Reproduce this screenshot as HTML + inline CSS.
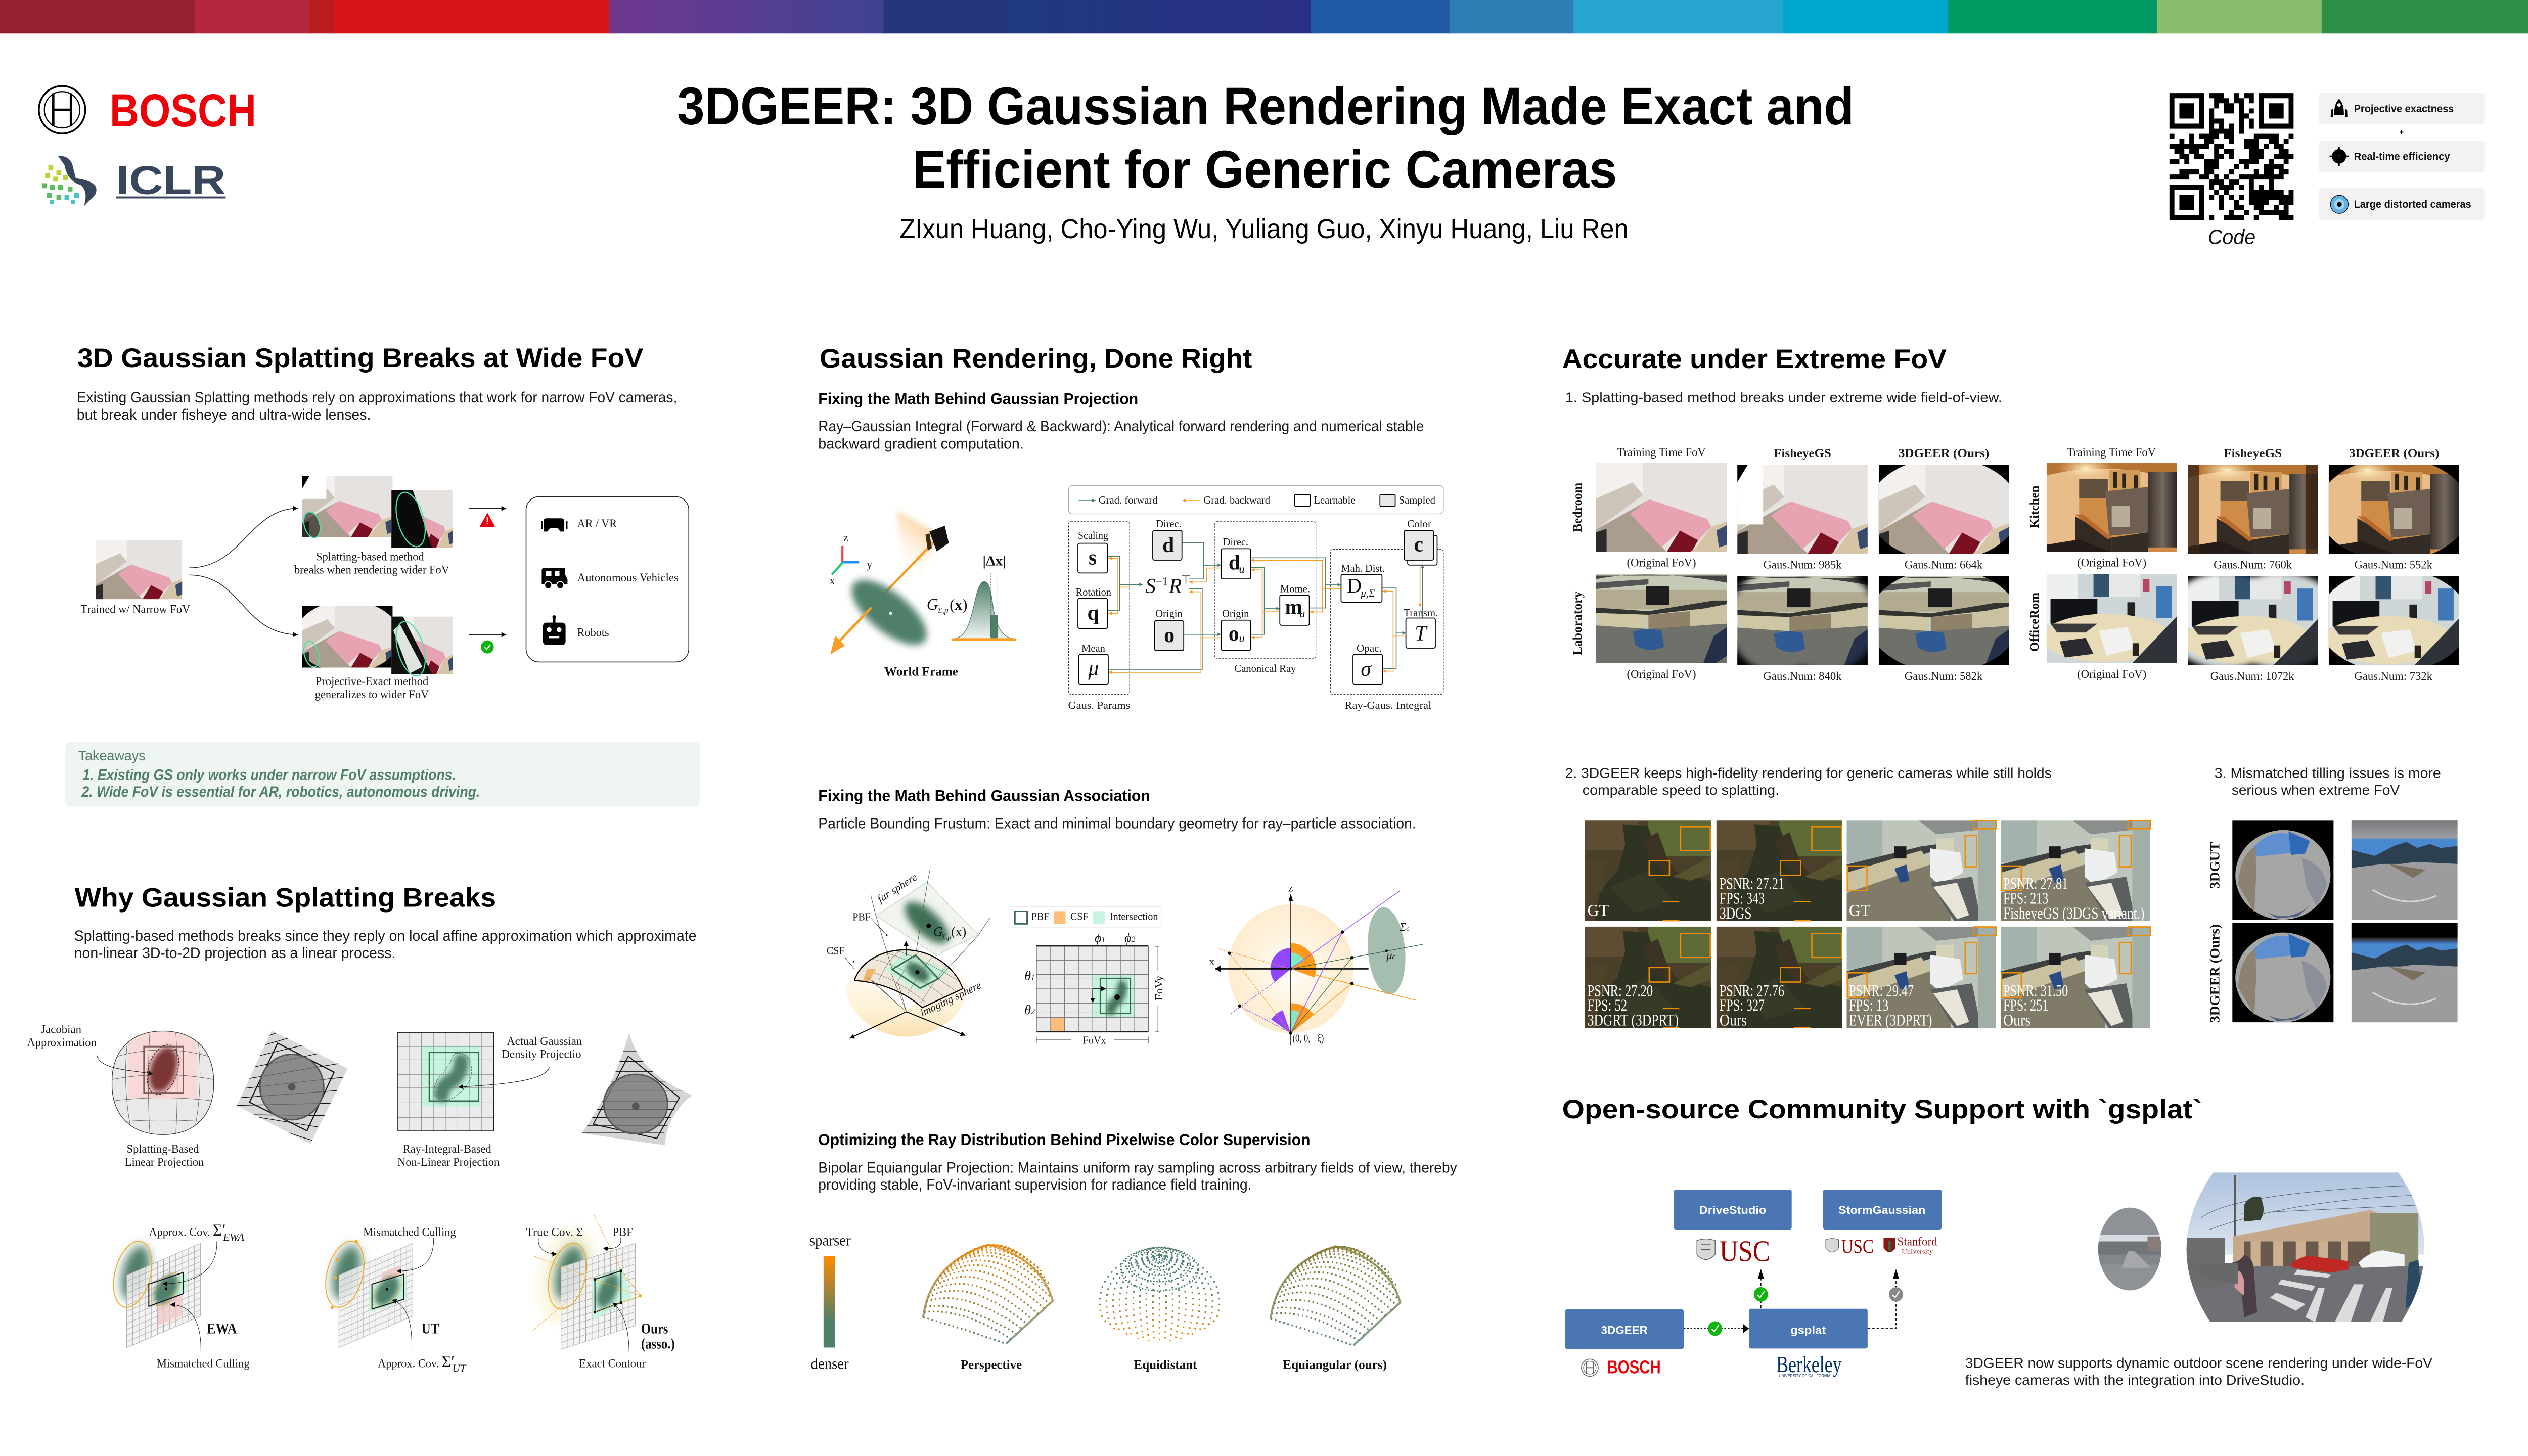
<!DOCTYPE html>
<html lang="en"><head><meta charset="utf-8"><title>3DGEER poster</title>
<style>
html,body{margin:0;padding:0;background:#fff;width:100%;height:100%;overflow:hidden}
svg{display:block;width:100vw;height:100vh}
text{font-family:"Liberation Sans",sans-serif;fill:#111}
.S{font-family:"Liberation Serif",serif}
.B{font-weight:bold}
.I{font-style:italic}
.h{font-weight:bold;font-size:16.3px;fill:#000}
.sub{font-weight:bold;font-size:9.6px;fill:#000}
.p{font-size:9.2px;fill:#1a1a1a}
.c{font-family:"Liberation Serif",serif;font-size:7px;fill:#1a1a1a}
.n{font-family:"Liberation Serif",serif;font-size:6.6px;fill:#1a1a1a}
.w{font-family:"Liberation Serif",serif;font-size:10px;fill:#fff}
.gr{fill:none;stroke:#4f7f69;stroke-width:.5}
.or{fill:none;stroke:#f99d25;stroke-width:.5}
.nd{fill:#fff;stroke:#000;stroke-width:.55}
.ng{fill:#e8e8e8;stroke:#000;stroke-width:.55}
.dg{fill:none;stroke:#333;stroke-width:.35;stroke-dasharray:1.2 .8}
.ob{fill:none;stroke:#f08c00;stroke-width:.8}
</style></head><body>
<svg xmlns="http://www.w3.org/2000/svg" viewBox="0 0 1568 882" preserveAspectRatio="none">
<defs>
<linearGradient id="pur"><stop offset="0" stop-color="#6f378e"/><stop offset="1" stop-color="#3f4394"/></linearGradient>
<linearGradient id="blu"><stop offset="0" stop-color="#1f3a80"/><stop offset="1" stop-color="#2b2f85"/></linearGradient>
<linearGradient id="gP" gradientUnits="userSpaceOnUse" x1="0" y1="754" x2="0" y2="814"><stop offset="0" stop-color="#e88a12"/><stop offset=".55" stop-color="#a07f30"/><stop offset="1" stop-color="#4f7f69"/></linearGradient>
<linearGradient id="gE" gradientUnits="userSpaceOnUse" x1="0" y1="754" x2="0" y2="814"><stop offset="0" stop-color="#8c8038"/><stop offset=".5" stop-color="#6f8148"/><stop offset="1" stop-color="#4f7f69"/></linearGradient>
<linearGradient id="gD" gradientUnits="userSpaceOnUse" x1="0" y1="756" x2="0" y2="813"><stop offset="0" stop-color="#4f7f69"/><stop offset=".35" stop-color="#4f7f69"/><stop offset=".65" stop-color="#a08036"/><stop offset="1" stop-color="#ff8a00"/></linearGradient>
<linearGradient id="bar" x1="0" y1="0" x2="0" y2="1"><stop offset="0" stop-color="#ff8a00"/><stop offset=".72" stop-color="#4f7f69"/><stop offset="1" stop-color="#4f7f69"/></linearGradient>
<linearGradient id="cone" gradientUnits="userSpaceOnUse" x1="583" y1="324" x2="562" y2="352"><stop offset="0" stop-color="#fbd3a0"/><stop offset="1" stop-color="#fff" stop-opacity="0"/></linearGradient>
<linearGradient id="bell" x1="0" y1="0" x2="0" y2="1"><stop offset="0" stop-color="#4f7f69"/><stop offset="1" stop-color="#f2f5f3"/></linearGradient>
<linearGradient id="yel" x1="0" y1="0" x2="0" y2="1"><stop offset="0" stop-color="#fffaf0"/><stop offset=".6" stop-color="#fdf1d6"/><stop offset="1" stop-color="#f9e0ae"/></linearGradient>
<linearGradient id="frig" x1="0" y1="0" x2="1" y2="0"><stop offset="0" stop-color="#3b3530"/><stop offset=".5" stop-color="#75685d"/><stop offset="1" stop-color="#2c2622"/></linearGradient>
<linearGradient id="fadeb" x1="0" y1="0" x2="0" y2="1"><stop offset="0" stop-color="#000"/><stop offset=".65" stop-color="#000"/><stop offset="1" stop-color="#000" stop-opacity="0"/></linearGradient>
<linearGradient id="fadeg" x1="0" y1="0" x2="0" y2="1"><stop offset="0" stop-color="#77787c"/><stop offset=".85" stop-color="#9c9d9f"/><stop offset="1" stop-color="#9c9d9f" stop-opacity="0"/></linearGradient>
<radialGradient id="sph"><stop offset="0" stop-color="#fff"/><stop offset=".55" stop-color="#fef3de"/><stop offset="1" stop-color="#fdeccf"/></radialGradient>
<radialGradient id="lamp"><stop offset="0" stop-color="#fff3c8"/><stop offset="1" stop-color="#f0c58a" stop-opacity="0"/></radialGradient>
<linearGradient id="sky" x1="0" y1="0" x2="0" y2="1"><stop offset="0" stop-color="#aec2df"/><stop offset="1" stop-color="#dbe4ee"/></linearGradient>
<filter id="b1" x="-50%" y="-50%" width="200%" height="200%"><feGaussianBlur stdDeviation="1.6"/></filter>
<filter id="b15" x="-50%" y="-50%" width="200%" height="200%"><feGaussianBlur stdDeviation="2.2"/></filter>
<filter id="b2" x="-50%" y="-50%" width="200%" height="200%"><feGaussianBlur stdDeviation="3"/></filter>
<filter id="b3" x="-50%" y="-50%" width="200%" height="200%"><feGaussianBlur stdDeviation="5"/></filter>
<marker id="a" markerUnits="userSpaceOnUse" markerWidth="4" markerHeight="4" refX="3" refY="1.5" orient="auto"><path d="M0 0L3 1.5L0 3Z" fill="#000"/></marker>
<marker id="ag" markerUnits="userSpaceOnUse" markerWidth="3" markerHeight="3" refX="2.2" refY="1.1" orient="auto"><path d="M0 0L2.2 1.1L0 2.2Z" fill="#4f7f69"/></marker>
<marker id="ao" markerUnits="userSpaceOnUse" markerWidth="3" markerHeight="3" refX="2.2" refY="1.1" orient="auto"><path d="M0 0L2.2 1.1L0 2.2Z" fill="#f99d25"/></marker>

<symbol id="bed" viewBox="0 0 100 100" preserveAspectRatio="none">
<rect width="100" height="100" fill="#e6e2df"/>
<path d="M0 0H36V36L0 68Z" fill="#f3f0ed"/>
<path d="M0 40L28 22L36 36L0 75Z" fill="#cdc4ba"/>
<path d="M0 75L41 41L26 57L54 100H0Z" fill="#ab9d8e"/>
<path d="M41 41L26 57L50 95L64 76L78 87L88 72L85 63Z" fill="#e8a3b2"/>
<path d="M64 76L78 87L73 100H54Z" fill="#7a1022"/>
<path d="M76 96L88 72L100 66V100H72Z" fill="#d6c4a6"/>
<path d="M92 76L100 70V92L94 95Z" fill="#394a6e"/>
<path d="M0 78L8 74V100H0Z" fill="#2b2b2b"/>
</symbol>
<symbol id="kit" viewBox="0 0 100 100" preserveAspectRatio="none">
<rect width="100" height="100" fill="#cf8c46"/>
<rect width="100" height="16" fill="#b87433"/>
<path d="M0 14Q40 0 80 12V40H25V86L0 92Z" fill="#e8bd8a"/>
<ellipse cx="30" cy="6" rx="22" ry="14" fill="url(#lamp)"/>
<rect x="25" y="18" width="22" height="22" fill="#5f4f3e"/>
<rect x="48" y="8" width="24" height="24" fill="#d09a58"/>
<rect x="51" y="10" width="3" height="18" fill="#2c2418"/><rect x="58" y="12" width="3" height="16" fill="#2c2418"/><rect x="67" y="14" width="3" height="14" fill="#2c2418"/>
<path d="M45 32L78 27V78L48 82Z" fill="#6e5f52"/>
<rect x="50" y="48" width="14" height="24" fill="#b8ad98"/>
<rect x="78" y="10" width="22" height="85" fill="url(#frig)"/>
<path d="M22 60L50 84V100H22Z" fill="#332a24"/>
<path d="M22 58L28 58L50 84L47 86Z" fill="#b9682a"/>
<path d="M0 92L25 86L50 100H0Z" fill="#231c18"/>
<path d="M50 84L78 78V100H50Z" fill="#332c27"/>
</symbol>
<symbol id="lab" viewBox="0 0 100 100" preserveAspectRatio="none">
<rect width="100" height="100" fill="#c5cab7"/>
<path d="M0 6Q40 -6 100 10V2H0Z" fill="#444"/>
<rect y="18" width="100" height="22" fill="#b3ab90"/>
<rect x="38" y="14" width="18" height="21" fill="#1d1d1f"/>
<path d="M0 10L40 6V12L0 17Z" fill="#555"/>
<path d="M0 38L40 42L90 30L100 30V36L40 46L0 44Z" fill="#33342f"/>
<path d="M0 44L38 46V62L4 58Z" fill="#cec6a5"/>
<path d="M40 46L72 42V60L40 62Z" fill="#8f8269"/>
<path d="M72 42L100 34V62L72 60Z" fill="#c9c1a1"/>
<path d="M0 58L40 62L100 56V100H0Z" fill="#6f706a"/>
<path d="M28 65Q38 60 50 64L52 82Q40 90 30 80Z" fill="#2f5a94"/>
<path d="M90 70L100 60V92L92 100H82Z" fill="#24304a"/>
</symbol>
<symbol id="off" viewBox="0 0 100 100" preserveAspectRatio="none">
<rect width="100" height="100" fill="#cfd6d8"/>
<rect width="24" height="58" fill="#eef0ef"/>
<rect x="36" y="0" width="12" height="26" fill="#33536f"/><rect x="48" y="0" width="24" height="26" fill="#e6e8e8"/>
<rect x="74" y="6" width="5" height="14" fill="#b84463"/>
<rect x="84" y="14" width="12" height="36" fill="#3f78b4"/>
<rect x="3" y="28" width="36" height="28" fill="#121316"/>
<rect x="62" y="32" width="6" height="20" fill="#222"/>
<ellipse cx="46" cy="72" rx="50" ry="27" fill="#e7dcb7"/>
<path d="M66 100L100 48V100Z" fill="#2d3339"/>
<path d="M10 76L30 72L36 90L14 94Z" fill="#2a2b2e"/>
<path d="M40 64L62 60L68 84L46 92Z" fill="#f1f1f0"/>
<rect x="66" y="78" width="5" height="14" fill="#26221c"/>
<path d="M3 56L39 56L30 66L8 66Z" fill="#3a3a3c"/>
</symbol>
<symbol id="for" viewBox="0 0 100 100" preserveAspectRatio="none">
<rect width="100" height="100" fill="#4a3f28"/>
<rect x="50" width="50" height="36" fill="#5e6a35"/>
<rect width="42" height="30" fill="#5d4d33"/>
<path d="M30 4L50 6L58 34L68 50L100 60V100H8L12 70L26 50L32 24Z" fill="#2f3322"/>
<path d="M46 20L58 12L66 40L78 60L64 54L52 38Z" fill="#3c3324"/>
<path d="M0 40L18 38L14 70L0 80Z" fill="#4e4228"/>
<path d="M20 66L50 50L70 80L40 92Z" fill="#353b26"/>
<path d="M70 56L100 36V52L84 60Z" fill="#56532f"/>
</symbol>
<symbol id="lb2" viewBox="0 0 100 100" preserveAspectRatio="none">
<rect width="100" height="100" fill="#bec6bc"/>
<rect width="24" height="42" fill="#a3b2ab"/>
<path d="M48 0H100V8L60 14Z" fill="#8a8f8b"/>
<rect x="60" y="18" width="12" height="24" fill="#d4d2b8"/>
<path d="M0 44L50 26L60 24V30L0 56Z" fill="#3e4240"/>
<path d="M0 52L50 30L56 44L10 74L0 72Z" fill="#c9c1a0"/>
<rect x="32" y="26" width="8" height="12" fill="#1d1d1f"/>
<path d="M0 72L56 44L66 56L70 100H0Z" fill="#7f7b68"/>
<path d="M56 28L76 32L78 52L62 64L56 56Z" fill="#eef0ef"/>
<path d="M56 62L84 56L90 100H72Z" fill="#5c5f60"/>
<path d="M58 66L74 62L82 94L74 98Z" fill="#e8e5d8"/>
<rect x="88" width="12" height="100" fill="#a3aea7"/>
<path d="M32 48L40 44L42 60L36 62Z" fill="#2a4a84"/>
</symbol>
<symbol id="mk" viewBox="0 0 100 100" preserveAspectRatio="none"><path fill-rule="evenodd" d="M0 0H100V100H0ZM50 -8A58 58 0 1 0 50.1 108A58 58 0 1 0 50 -8Z" fill="#000"/></symbol>
<symbol id="mg" viewBox="0 0 100 100" preserveAspectRatio="none"><path filter="url(#b2)" fill-rule="evenodd" d="M-10 -10H110V110H-10ZM50 2A47 54 0 1 0 50.1 98A47 54 0 1 0 50 2Z" fill="#000"/></symbol>
<symbol id="mh" viewBox="0 0 100 100" preserveAspectRatio="none"><path filter="url(#b2)" fill-rule="evenodd" d="M-10 -10H110V110H-10ZM50 0A38 58 0 1 0 50.1 100A38 58 0 1 0 50 0Z" fill="#000"/></symbol>
<symbol id="fe1" viewBox="0 0 100 100" preserveAspectRatio="none">
<rect width="100" height="100" fill="#000"/>
<g transform="rotate(-6 50 55)"><ellipse cx="50" cy="55" rx="47" ry="45" fill="#a6a7a5"/>
<path d="M24 24Q50 2 76 24L74 34H26Z" fill="#5f8fcf"/><path d="M60 12L80 24L74 36H60Z" fill="#2d69b5"/>
<path d="M5 60Q10 30 26 24L24 50L18 90Z" fill="#8d8172"/><path d="M70 40Q92 50 92 70L80 90L72 70Z" fill="#8a8f9a"/>
<path d="M30 90Q50 104 74 88L60 98H40Z" fill="#4f6180"/></g>
</symbol>
<symbol id="fe2" viewBox="0 0 100 100" preserveAspectRatio="none">
<rect width="100" height="100" fill="#9d9d9f"/>
<rect y="18" width="100" height="20" fill="#4a88d0"/>
<path d="M0 30L22 36L40 26L52 22L62 28L74 24L84 28L100 26V44L60 42L20 48L0 52Z" fill="#2c4050"/>
<path d="M0 48L30 44L70 44L100 50V100H0Z" fill="#9c9c9e"/>
<path d="M35 44L70 50L58 58Z" fill="#7b6f60"/>
<path d="M20 70Q50 90 80 76" fill="none" stroke="#d8d8d8" stroke-width="1.5"/>
</symbol>
<path id="pg" d="M0 0H1V1H0ZM0 .083H1M0 .167H1M0 .25H1M0 .333H1M0 .417H1M0 .5H1M0 .583H1M0 .667H1M0 .75H1M0 .833H1M0 .917H1M.083 0V1M.167 0V1M.25 0V1M.333 0V1M.417 0V1M.5 0V1M.583 0V1M.667 0V1M.75 0V1M.833 0V1M.917 0V1" fill="#f1f1f1" fill-opacity=".85" stroke="#aaa" stroke-width="1" vector-effect="non-scaling-stroke"/>
<g id="rows" fill="none" stroke-width="1.05" stroke-dasharray="1 1.7">
<path d="M572.6 798Q598 805 624 814"/><path d="M573.2 794.8Q596 792 627 811"/><path d="M573.8 791.6Q596 788 630.5 808"/><path d="M574.6 788.6Q598 780 634 805"/><path d="M575.6 785.7Q600 773 637 802"/><path d="M576.8 783Q602 767 640 799"/><path d="M578.1 780.2Q605 761 644 796"/><path d="M579.6 777.6Q607 756 648 793"/><path d="M581.2 775.1Q610 752 651 790"/><path d="M583 772.8Q612 749 652 786"/><path d="M585 770.5Q614 746 652 782"/><path d="M587 768.4Q616 745 651 778"/><path d="M589.3 766.3Q618 744 649 775"/><path d="M591.7 764.4Q618 744 647 771"/><path d="M594.2 762.6Q618 745 644 768"/><path d="M597 760.9Q618 746 640 765"/><path d="M599.8 759.3Q618 748 636 762"/><path d="M603 757.8Q617 750 631 759"/><path d="M606.1 756.4Q616 752 625 757"/>
<path stroke-dasharray="none" stroke-width="1.3" opacity=".75" d="M572.6 798Q577 765 613 754Q645 762 653 788L624 814"/>
</g>
<g id="mer" fill="none" stroke="url(#gD)" stroke-width="1" stroke-dasharray="1 2.6">
<path d="M719.2 760C722 763 723.3 775 723.3 788S723 805 722.5 813"/>
<path d="M719.2 760C724.7 763 727.4 775 727.4 788S726.5 805 725.9 812.5"/>
<path d="M719.2 760C727.5 763 731.4 775 731.4 788S730 805 729.1 811.9"/>
<path d="M719.2 760C730.2 763 735.5 775 735.5 788S733.7 805 732.4 811"/>
<path d="M719.2 760C733.2 763 739.9 775 739.9 788S737.7 805 736 810"/>
<path d="M719.2 760C736 763 744 775 744 788S741.3 805 739.3 808.5"/>
<path d="M719.2 760C738.7 763 748 775 748 788S745 805 742.6 807"/>
<path d="M719.2 760C741.4 763 752.1 775 752.1 788S748.6 805 745.9 805"/>
<path d="M719.2 758C744.2 760 756.2 775 756.2 788S752.2 800 749.2 803"/>
</g>
<g id="fb" class="ob"><rect x="1042.4" y="500.8" width="18.4" height="14.5"/><rect x="1022.9" y="521.4" width="12.6" height="8.8"/><path d="M1031.3 546.2H1041.6M1031.3 557.7H1041.6"/></g>
<g id="lbb" class="ob"><rect x="1224.2" y="496.8" width="13.8" height="5.2"/><rect x="1218.9" y="506.2" width="7.2" height="18.9"/><rect x="1145.8" y="524.6" width="12.2" height="14.9"/></g>
<clipPath id="cbar"><path d="M1372.8 710.3H1487.6Q1519 755 1489.5 800.7H1370.8Q1340.6 755 1372.8 710.3Z"/></clipPath>
<clipPath id="csm"><ellipse cx="1321" cy="756.6" rx="19.6" ry="25.1"/></clipPath>
<clipPath id="cr1"><path d="M168.5 624.3L215.7 647.3L192.6 692.9L146.9 669.9Z"/></clipPath>
<clipPath id="cr2"><path d="M390.3 625.4Q396 650 429.3 663.4Q414 675 412.3 693.7Q385 690 361 686.4Q380 660 390.3 625.4Z"/></clipPath>
<clipPath id="cov"><path d="M101 624.6C124 624.6 133 640 132.5 656C133 672 124 687.3 101 687.3C78 687.3 69 672 69.5 656C69 640 78 624.6 101 624.6Z"/></clipPath>
</defs>
<rect width="1568" height="882" fill="#fff"/>

<!-- top band -->
<g>
<rect x="0" width="121" height="20.3" fill="#94222f"/><rect x="121" width="72" height="20.3" fill="#b3273e"/><rect x="192" width="16" height="20.3" fill="#b81e20"/><rect x="207" width="172" height="20.3" fill="#d71518"/><rect x="378" width="171" height="20.3" fill="url(#pur)"/><rect x="548" width="78" height="20.3" fill="#24357a"/><rect x="625" width="189" height="20.3" fill="url(#blu)"/><rect x="813" width="87" height="20.3" fill="#2059a3"/><rect x="899" width="78" height="20.3" fill="#2f7db5"/><rect x="976" width="131" height="20.3" fill="#25a5d0"/><rect x="1106" width="103" height="20.3" fill="#00a8d0"/><rect x="1208" width="131" height="20.3" fill="#009b62"/><rect x="1338" width="103" height="20.3" fill="#8cbc70"/><rect x="1440" width="128" height="20.3" fill="#2f8f47"/>
</g>

<!-- logos -->
<g fill="none" stroke="#000"><circle cx="38.5" cy="66.5" r="14.4" stroke-width="1.1"/><circle cx="38.5" cy="66.5" r="11" stroke-width=".7"/><path d="M33 56.5V76.5M44 56.5V76.5M33 66.5H44" stroke-width="1.5"/></g>
<text class="B" x="68" y="76.6" font-size="28" textLength="91" lengthAdjust="spacingAndGlyphs" style="fill:#ed0007">BOSCH</text>
<path d="M36 94.5Q43 94 45 100L47 108Q63 110 59 118Q55 122 52 125Q55 116 50 112Q42 110 40 100Z" fill="#37465a"/>
<g fill="#b6d433"><rect x="30" y="100" width="3" height="3"/><rect x="35" y="103" width="3" height="3"/><rect x="28" y="105" width="3" height="3"/><rect x="33" y="107" width="3" height="3"/><rect x="39" y="106" width="3" height="3"/></g>
<g fill="#5bbb5e"><rect x="26" y="111" width="3" height="3"/><rect x="31" y="112" width="3" height="3"/><rect x="36" y="112" width="3" height="3"/><rect x="42" y="113" width="3" height="3"/><rect x="29" y="117" width="3" height="3"/><rect x="35" y="118" width="3" height="3"/></g>
<g fill="#4fc0c8"><rect x="40" y="118" width="3" height="3"/><rect x="46" y="117" width="3" height="3"/><rect x="44" y="121" width="2.5" height="2.5"/><rect x="31" y="121" width="2.5" height="2.5"/></g>
<text class="B" x="72" y="117.5" font-size="24.5" textLength="68" lengthAdjust="spacingAndGlyphs" style="fill:#37465a">ICLR</text>
<rect x="72" y="119" width="68" height="1.2" fill="#37465a"/>

<!-- title -->
<text class="B" x="420" y="75.3" font-size="32" textLength="730" lengthAdjust="spacingAndGlyphs" style="fill:#000">3DGEER: 3D Gaussian Rendering Made Exact and</text>
<text class="B" x="566" y="113.6" font-size="32" textLength="437" lengthAdjust="spacingAndGlyphs" style="fill:#000">Efficient for Generic Cameras</text>
<text x="558" y="144.3" font-size="16.5" textLength="452" lengthAdjust="spacingAndGlyphs" style="fill:#000">ZIxun Huang, Cho-Ying Wu, Yuliang Guo, Xinyu Huang, Liu Ren</text>

<!-- QR -->
<g transform="translate(1345.6 56.4) scale(3.08)"><path fill-rule="evenodd" d="M0 0h7v7h-7zM1 1v5h5v-5zM18 0h7v7h-7zM19 1v5h5v-5zM0 18h7v7h-7zM1 19v5h5v-5z"/><path d="M2 2h3v3h-3zM20 2h3v3h-3zM2 20h3v3h-3zM8 0h3v1h-3zM13 0h1v1h-1zM15 0h2v1h-2zM9 1h3v1h-3zM13 1h2v1h-2zM16 1h1v1h-1zM9 2h1v1h-1zM11 2h2v1h-2zM14 2h1v1h-1zM8 3h1v1h-1zM11 3h2v1h-2zM14 3h1v1h-1zM16 3h1v1h-1zM8 4h1v1h-1zM14 4h2v1h-2zM8 5h3v1h-3zM14 5h1v1h-1zM16 5h1v1h-1zM8 6h1v1h-1zM10 6h1v1h-1zM12 6h1v1h-1zM14 6h1v1h-1zM16 6h1v1h-1zM8 7h5v1h-5zM14 7h1v1h-1zM0 8h1v1h-1zM4 8h1v1h-1zM6 8h4v1h-4zM11 8h2v1h-2zM17 8h5v1h-5zM24 8h1v1h-1zM2 9h1v1h-1zM4 9h1v1h-1zM7 9h2v1h-2zM12 9h1v1h-1zM15 9h3v1h-3zM20 9h2v1h-2zM23 9h1v1h-1zM0 10h8v1h-8zM9 10h2v1h-2zM15 10h3v1h-3zM19 10h1v1h-1zM21 10h2v1h-2zM1 11h2v1h-2zM4 11h2v1h-2zM9 11h1v1h-1zM11 11h2v1h-2zM16 11h3v1h-3zM22 11h2v1h-2zM2 12h2v1h-2zM5 12h2v1h-2zM9 12h2v1h-2zM12 12h1v1h-1zM16 12h3v1h-3zM21 12h4v1h-4zM0 13h2v1h-2zM3 13h1v1h-1zM7 13h3v1h-3zM14 13h4v1h-4zM20 13h1v1h-1zM23 13h1v1h-1zM7 14h1v1h-1zM8 14h2v1h-2zM13 14h1v1h-1zM15 14h1v1h-1zM19 14h4v1h-4zM2 15h4v1h-4zM7 15h2v1h-2zM12 15h1v1h-1zM17 15h1v1h-1zM19 15h2v1h-2zM22 15h2v1h-2zM0 16h4v1h-4zM6 16h2v1h-2zM9 16h1v1h-1zM11 16h1v1h-1zM14 16h9v1h-9zM8 17h3v1h-3zM12 17h2v1h-2zM16 17h1v1h-1zM20 17h1v1h-1zM8 18h1v1h-1zM10 18h3v1h-3zM14 18h1v1h-1zM16 18h1v1h-1zM18 18h1v1h-1zM20 18h1v1h-1zM9 19h1v1h-1zM11 19h1v1h-1zM16 19h7v1h-7zM24 19h1v1h-1zM8 20h1v1h-1zM10 20h1v1h-1zM12 20h1v1h-1zM14 20h1v1h-1zM16 20h9v1h-9zM10 21h1v1h-1zM13 21h1v1h-1zM16 21h4v1h-4zM22 21h3v1h-3zM10 22h1v1h-1zM13 22h2v1h-2zM17 22h2v1h-2zM21 22h1v1h-1zM23 22h1v1h-1zM12 23h1v1h-1zM15 23h1v1h-1zM18 23h6v1h-6zM8 24h1v1h-1zM11 24h4v1h-4zM17 24h1v1h-1zM22 24h3v1h-3z"/></g>
<text class="I" x="1369.5" y="147.7" font-size="12.5" textLength="29.5" lengthAdjust="spacingAndGlyphs">Code</text>

<!-- pills -->
<rect x="1438.4" y="56.3" width="102.6" height="19" rx="1.5" fill="#f2f2f2"/><rect x="1438.4" y="85.1" width="102.6" height="19.2" rx="1.5" fill="#f2f2f2"/><rect x="1438.4" y="114" width="102.6" height="19.2" rx="1.5" fill="#f2f2f2"/>
<text class="B" x="1460" y="68" font-size="6.4" textLength="62" lengthAdjust="spacingAndGlyphs">Projective exactness</text>
<text class="B" x="1460" y="97" font-size="6.4" textLength="59.6" lengthAdjust="spacingAndGlyphs">Real-time efficiency</text>
<text class="B" x="1460" y="125.8" font-size="6.4" textLength="72.8" lengthAdjust="spacingAndGlyphs">Large distorted cameras</text>
<path d="M1488.5 80.1h2.2M1489.6 79v2.2" stroke="#000" stroke-width=".6"/>
<path d="M1450.8 59.8Q1454 63 1453.8 69.5H1447.8Q1447.6 63 1450.8 59.8ZM1445.8 66.5L1447 66V71H1445.6ZM1455.8 66.5L1454.6 66V71H1456Z"/><circle cx="1450.8" cy="63.6" r="1.1" fill="#f2f2f2"/>
<circle cx="1450.8" cy="94.7" r="4.4"/><circle cx="1450.8" cy="94.7" r="1" fill="#f2f2f2"/><path d="M1450.8 88.8v11.8M1444.9 94.7h11.8" stroke="#000" stroke-width=".9"/>
<circle cx="1451" cy="123.8" r="5.5" fill="#5fb2e6" stroke="#000" stroke-width=".4"/><circle cx="1451" cy="123.8" r="3.2" fill="#a0d6f4"/><circle cx="1451" cy="123.8" r="1.5"/>

<!-- ==== COLUMN 1 ==== -->
<text class="h" x="48" y="222.4" textLength="351" lengthAdjust="spacingAndGlyphs">3D Gaussian Splatting Breaks at Wide FoV</text>
<text class="p" x="47.6" y="243.8" textLength="372.4" lengthAdjust="spacingAndGlyphs">Existing Gaussian Splatting methods rely on approximations that work for narrow FoV cameras,</text>
<text class="p" x="47.6" y="254.2" textLength="182.4" lengthAdjust="spacingAndGlyphs">but break under fisheye and ultra-wide lenses.</text>

<use href="#bed" x="59.4" y="327.4" width="53.6" height="35.6"/>
<text class="c" x="50" y="371.4" textLength="68" lengthAdjust="spacingAndGlyphs">Trained w/ Narrow FoV</text>
<path d="M117.3 344C150 344 155 308 184.7 307.9" fill="none" stroke="#222" stroke-width=".45" marker-end="url(#a)"/>
<path d="M117.3 348.3C150 348.3 150 384 184.7 384.5" fill="none" stroke="#222" stroke-width=".45" marker-end="url(#a)"/>

<use href="#bed" x="187.4" y="288.2" width="56.1" height="37.1"/>
<rect x="187.4" y="288.2" width="15" height="14" fill="#fff"/><path d="M187.4 288.2H192L187.4 296Z" fill="#000"/>
<use href="#bed" x="242.8" y="296.8" width="38.2" height="34.9"/>
<path d="M242.8 296.8H256L268 331.7H242.8Z" fill="#0a0a0a"/>
<ellipse cx="193.5" cy="317.9" rx="4.8" ry="8" fill="#111" fill-opacity=".55" stroke="#47e2a4" stroke-width=".7" transform="rotate(-16 193.5 317.9)"/>
<ellipse cx="254.7" cy="314.7" rx="8" ry="17" fill="none" stroke="#47e2a4" stroke-width=".7" transform="rotate(-16 254.7 314.7)"/>
<text class="c" x="196" y="339.5" textLength="67" lengthAdjust="spacingAndGlyphs">Splatting-based method</text>
<text class="c" x="182.5" y="347.4" textLength="96.3" lengthAdjust="spacingAndGlyphs">breaks when rendering wider FoV</text>

<use href="#bed" x="187.4" y="366.9" width="56.1" height="37.5"/>
<use href="#mk" x="187.4" y="366.9" width="56.1" height="37.5"/>
<use href="#bed" x="242.8" y="373.5" width="38.2" height="34.8"/>
<path d="M242.8 373.5H250L268 408.3H242.8Z" fill="#111"/>
<path d="M248 378L262 404L254 408L244 382Z" fill="#dfe4dd"/>
<ellipse cx="193.2" cy="396.3" rx="4.4" ry="8" fill="none" stroke="#47e2a4" stroke-width=".7" transform="rotate(-16 193.2 396.3)"/>
<ellipse cx="254.7" cy="393" rx="8" ry="17" fill="none" stroke="#47e2a4" stroke-width=".7" transform="rotate(-16 254.7 393)"/>
<text class="c" x="195.6" y="415" textLength="70.1" lengthAdjust="spacingAndGlyphs">Projective-Exact method</text>
<text class="c" x="195.3" y="423" textLength="70.7" lengthAdjust="spacingAndGlyphs">generalizes to wider FoV</text>

<path d="M291 308H314" stroke="#222" stroke-width=".45" marker-end="url(#a)"/>
<path d="M291 384.5H314" stroke="#222" stroke-width=".45" marker-end="url(#a)"/>
<path d="M302.3 311.2L306.6 318.8H298Z" fill="#e8000d" stroke="#e8000d" stroke-width=".6" stroke-linejoin="round"/><rect x="301.9" y="313.2" width=".8" height="3" fill="#fff"/><rect x="301.9" y="316.8" width=".8" height=".8" fill="#fff"/>
<circle cx="302.3" cy="391.9" r="4" fill="#0fb40f"/><path d="M300.5 392L301.9 393.4L304.2 390.4" fill="none" stroke="#fff" stroke-width=".7"/>

<rect x="326.3" y="300.9" width="100.9" height="100.1" rx="8" fill="#fff" stroke="#222" stroke-width=".5"/>
<path d="M339 314H348Q350 314 350 316V322L347.5 322L346 320H341.2L339.5 322L337.3 322V316Q337 314 339 314Z"/><rect x="335.7" y="315.5" width="1" height="5"/><rect x="351" y="315.5" width="1" height="5"/>
<path d="M336 345.5Q336 344 337.5 344H350.5V348L352 351V354H336Z"/><circle cx="340" cy="354.5" r="2.2" fill="#000" stroke="#fff" stroke-width=".6"/><circle cx="347.5" cy="354.5" r="2.2" fill="#000" stroke="#fff" stroke-width=".6"/><rect x="338.5" y="346" width="3.5" height="3" fill="#fff"/><rect x="344" y="346" width="3" height="3" fill="#fff"/>
<rect x="336.8" y="377.2" width="14" height="13.5" rx="2"/><rect x="343" y="373.8" width="1.5" height="4"/><circle cx="343.7" cy="373.8" r="1.1"/><circle cx="340.6" cy="381.5" r="1.5" fill="#fff"/><circle cx="346.8" cy="381.5" r="1.5" fill="#fff"/><rect x="340.5" y="385.5" width="6.4" height="1.1" fill="#fff"/>
<text class="c" x="358" y="319.4" textLength="24.6" lengthAdjust="spacingAndGlyphs">AR / VR</text>
<text class="c" x="358" y="352.2" textLength="62.8" lengthAdjust="spacingAndGlyphs">Autonomous Vehicles</text>
<text class="c" x="358" y="385.4" textLength="19.8" lengthAdjust="spacingAndGlyphs">Robots</text>

<rect x="40.5" y="449.3" width="393.5" height="39.3" rx="2.5" fill="#eff5f1"/>
<text x="48.5" y="460.6" font-size="8.6" textLength="41.7" lengthAdjust="spacingAndGlyphs" style="fill:#4f7f69">Takeaways</text>
<text class="I B" x="51.2" y="472.4" font-size="9" textLength="231.6" lengthAdjust="spacingAndGlyphs" style="fill:#4f7f69">1. Existing GS only works under narrow FoV assumptions.</text>
<text class="I B" x="50.6" y="482.7" font-size="9" textLength="247.1" lengthAdjust="spacingAndGlyphs" style="fill:#4f7f69">2. Wide FoV is essential for AR, robotics, autonomous driving.</text>

<text class="h" x="46.3" y="549.2" textLength="261.4" lengthAdjust="spacingAndGlyphs">Why Gaussian Splatting Breaks</text>
<text class="p" x="46" y="570" textLength="386" lengthAdjust="spacingAndGlyphs">Splatting-based methods breaks since they reply on local affine approximation which approximate</text>
<text class="p" x="46" y="580.3" textLength="199.3" lengthAdjust="spacingAndGlyphs">non-linear 3D-to-2D projection as a linear process.</text>

<text class="c" x="25.5" y="625.9" textLength="25" lengthAdjust="spacingAndGlyphs">Jacobian</text>
<text class="c" x="16.8" y="633.8" textLength="43" lengthAdjust="spacingAndGlyphs">Approximation</text>
<path d="M101 624.6C124 624.6 133 640 132.5 656C133 672 124 687.3 101 687.3C78 687.3 69 672 69.5 656C69 640 78 624.6 101 624.6Z" fill="#e9e9e9"/>
<g clip-path="url(#cov)"><rect x="79.8" y="624" width="42.2" height="41.6" fill="#f9d9d8"/>
<path d="M69 641Q101 631 133 641M69 654Q101 648 133 654M69 667Q101 663 133 667M69 680Q101 677 133 680M80 624Q75 656 82 688M93 624Q91 656 93 688M109 624Q111 656 109 688M122 624Q127 656 120 688" fill="none" stroke="#666" stroke-width=".3"/></g>
<path d="M101 624.6C124 624.6 133 640 132.5 656C133 672 124 687.3 101 687.3C78 687.3 69 672 69.5 656C69 640 78 624.6 101 624.6Z" fill="none" stroke="#333" stroke-width=".4"/>
<ellipse cx="101.2" cy="648" rx="8" ry="14" fill="#7c3434" filter="url(#b1)" transform="rotate(18 101.2 648)"/>
<ellipse cx="101" cy="648" rx="9" ry="15.5" fill="none" stroke="#3d1414" stroke-width=".45" stroke-dasharray="1.2 .8" transform="rotate(18 101 648)"/>
<rect x="89.3" y="634" width="24.4" height="28" fill="none" stroke="#7b5a5a" stroke-width=".9"/>
<path d="M60 639.2C62 648 80 648 95 650.6" fill="none" stroke="#222" stroke-width=".35" marker-end="url(#a)"/>

<path d="M168.5 624.3L215.7 647.3L192.6 692.9L146.9 669.9Z" fill="#d9d9d9"/>
<g clip-path="url(#cr1)" stroke="#111" stroke-width=".4"><path d="M150 633L218 610M146 638L218 618M142 644L218 626M140 650L218 634M138 656L218 643M136 661L218 652M134 666L218 660M132 670L218 668M130 675L218 676M130 672L218 686M134 672L210 696"/></g>
<path d="M172.2 631.9L207.2 649.5L190.4 685L154.8 667.7Z" fill="none" stroke="#111" stroke-width=".7"/>
<circle cx="181" cy="658.5" r="19.8" fill="#777" fill-opacity=".8" stroke="#555" stroke-width=".9"/>
<circle cx="181" cy="658.5" r="2.3" fill="#555"/>

<rect x="246.5" y="625.4" width="59.7" height="59.7" fill="#ebebeb"/>
<rect x="261.4" y="633.4" width="36.6" height="36.9" fill="#c5f5de"/>
<path d="M254 625.4V685.1M261.4 625.4V685.1M269 625.4V685.1M276.3 625.4V685.1M283.9 625.4V685.1M291.3 625.4V685.1M298.8 625.4V685.1M246.5 634H306.2M246.5 642H306.2M246.5 651H306.2M246.5 659H306.2M246.5 668H306.2M246.5 677H306.2" stroke="#888" stroke-width=".25"/>
<rect x="246.5" y="625.4" width="59.7" height="59.7" fill="none" stroke="#222" stroke-width=".5"/>
<rect x="266.3" y="637.5" width="30.5" height="29.5" fill="none" stroke="#38694f" stroke-width=".9"/>
<path d="M286 643Q286 652 278 656Q274 659 274 663" fill="none" stroke="#4f7f69" stroke-width="9" stroke-linecap="round" filter="url(#b1)"/>
<path d="M283 638Q293 638 292.5 650Q291 658 285 662Q279 668 273 666Q266 662 272 653Q277 648 280 642Q281 638 283 638Z" fill="none" stroke="#38694f" stroke-width=".35" stroke-dasharray="1 .7"/>
<text class="c" x="314.3" y="633" textLength="46.7" lengthAdjust="spacingAndGlyphs">Actual Gaussian</text>
<text class="c" x="311" y="640.9" textLength="49.5" lengthAdjust="spacingAndGlyphs">Density Projectio</text>
<path d="M340.7 646.3C339 655 310 657 284.3 658.5" fill="none" stroke="#222" stroke-width=".35" marker-end="url(#a)"/>

<path d="M390.3 625.4Q396 650 429.3 663.4Q414 675 412.3 693.7Q385 690 361 686.4Q380 660 390.3 625.4Z" fill="#d4d4d4"/>
<g clip-path="url(#cr2)" stroke="#111" stroke-width=".4"><path d="M370 637H400M368 643H402M366 649H408M364 655H414M362 661H424M360 667H420M358 672H418M358 677H416M358 682H414M358 686H412"/></g>
<path d="M389.7 639.8L421.4 664.9L407.4 689.6L368 681Z" fill="none" stroke="#111" stroke-width=".6"/>
<ellipse cx="394.3" cy="668.8" rx="19.8" ry="18" fill="#777" fill-opacity=".8" stroke="#555" stroke-width=".9"/>
<circle cx="394.3" cy="670" r="2.3" fill="#555"/>
<text class="c" x="78.6" y="698.2" textLength="44.8" lengthAdjust="spacingAndGlyphs">Splatting-Based</text>
<text class="c" x="77.4" y="706.2" textLength="49.1" lengthAdjust="spacingAndGlyphs">Linear Projection</text>
<text class="c" x="249.9" y="698.2" textLength="54.8" lengthAdjust="spacingAndGlyphs">Ray-Integral-Based</text>
<text class="c" x="246.5" y="706.2" textLength="63.4" lengthAdjust="spacingAndGlyphs">Non-Linear Projection</text>

<!-- panel EWA -->
<ellipse cx="84" cy="771" rx="8" ry="17" fill="#4f7f69" filter="url(#b2)" transform="rotate(15 84 771)"/>
<use href="#pg" transform="matrix(45.7 -19.2 0 44 78.6 772.4)"/>
<path d="M98 780L116 771V782L98 790Z" fill="#c5f5de" fill-opacity=".9"/><path d="M98 790L113 784V797L98 803Z" fill="#f3c9c9" fill-opacity=".8"/>
<ellipse cx="103" cy="781" rx="6" ry="10" fill="#4f7f69" filter="url(#b1)" transform="rotate(35 103 781)"/>
<ellipse cx="82.3" cy="771.9" rx="11" ry="20.5" fill="none" stroke="#f5ab27" stroke-width=".6" transform="rotate(15 82.3 771.9)"/>
<ellipse cx="103" cy="781" rx="6" ry="12" fill="none" stroke="#f5ab27" stroke-width=".4" stroke-dasharray="1 .7" transform="rotate(40 103 781)"/>
<path d="M92.3 777.9L113.7 770.8V783.7L92.3 791.3Z" fill="none" stroke="#111" stroke-width=".6"/>
<circle cx="103" cy="780.6" r=".8"/>
<path d="M134.5 752C135 770 120 778 100.7 777.6" fill="none" stroke="#222" stroke-width=".3" marker-end="url(#a)"/>
<path d="M124.6 818.8C125 800 118 790 105.5 790.4" fill="none" stroke="#222" stroke-width=".3" marker-end="url(#a)"/>
<text class="c" x="92.3" y="748.7" textLength="38.1" lengthAdjust="spacingAndGlyphs">Approx. Cov.</text>
<text class="S" x="132" y="748.5" font-size="10">Σ′</text><text class="S I" x="138.4" y="751.5" font-size="6.6">EWA</text>
<text class="S B" x="128.3" y="807.8" font-size="9.2" textLength="18.6" lengthAdjust="spacingAndGlyphs">EWA</text>
<text class="c" x="97.2" y="828.2" textLength="57.6" lengthAdjust="spacingAndGlyphs">Mismatched Culling</text>

<!-- panel UT -->
<ellipse cx="215" cy="771" rx="8" ry="17" fill="#4f7f69" filter="url(#b2)" transform="rotate(15 215 771)"/>
<use href="#pg" transform="matrix(45.8 -19.2 0 44 210.2 772.4)"/>
<path d="M229 780L252 772V787L229 795Z" fill="#c5f5de" fill-opacity=".9"/><path d="M237 771L249 766V772L237 777Z" fill="#f3c9c9" fill-opacity=".85"/>
<ellipse cx="240" cy="782" rx="6" ry="10" fill="#4f7f69" filter="url(#b1)" transform="rotate(35 240 782)"/>
<ellipse cx="213.9" cy="771.9" rx="11" ry="20.5" fill="none" stroke="#f5ab27" stroke-width=".6" transform="rotate(15 213.9 771.9)"/>
<ellipse cx="240" cy="782" rx="6" ry="12" fill="none" stroke="#f5ab27" stroke-width=".4" stroke-dasharray="1 .7" transform="rotate(40 240 782)"/>
<path d="M230.7 777.9L250.5 771.9V787L230.7 793Z" fill="none" stroke="#111" stroke-width=".6"/>
<circle cx="221" cy="752" r="1" fill="#f5ab27"/><circle cx="209" cy="763" r="1" fill="#f5ab27"/><circle cx="208" cy="774" r="1" fill="#f5ab27"/><circle cx="206" cy="792" r="1" fill="#f5ab27"/><circle cx="240" cy="781" r=".8"/>
<path d="M269 750C269 765 262 770 246 770" fill="none" stroke="#222" stroke-width=".3" marker-end="url(#a)"/>
<path d="M255.4 818.8C256 800 252 790 243 787.5" fill="none" stroke="#222" stroke-width=".3" marker-end="url(#a)"/>
<text class="c" x="225.2" y="748.7" textLength="57.6" lengthAdjust="spacingAndGlyphs">Mismatched Culling</text>
<text class="S B" x="261.4" y="807.8" font-size="9.2" textLength="11" lengthAdjust="spacingAndGlyphs">UT</text>
<text class="c" x="234.3" y="828.2" textLength="38" lengthAdjust="spacingAndGlyphs">Approx. Cov.</text>
<text class="S" x="274" y="828" font-size="10">Σ′</text><text class="S I" x="280.5" y="831" font-size="6.6">UT</text>

<!-- panel Ours -->
<ellipse cx="352" cy="773" rx="18" ry="30" fill="#faf7e2" filter="url(#b2)" transform="rotate(15 352 773)"/>
<ellipse cx="353" cy="771" rx="8" ry="17" fill="#4f7f69" filter="url(#b2)" transform="rotate(15 353 771)"/>
<use href="#pg" transform="matrix(46 -14.4 0 49.8 348 767.6)"/>
<path d="M367 775L386 768L392 786L368 800Z" fill="#c5f5de" fill-opacity=".9"/>
<ellipse cx="377" cy="782" rx="5.5" ry="11" fill="#4f7f69" filter="url(#b1)" transform="rotate(25 377 782)"/>
<ellipse cx="352" cy="773" rx="11" ry="20.5" fill="none" stroke="#f5ab27" stroke-width=".6" transform="rotate(15 352 773)"/>
<path d="M369 775L385.2 769.8V789.1L369 794.9Z" fill="none" stroke="#111" stroke-width=".6"/>
<path d="M369 775L397.5 785L369 794.9M385.2 769.8L397.5 785L385.2 789.1M331.5 761L369 775M368.5 736L385 769M351 789L330.5 806" fill="none" stroke="#f5ab27" stroke-width=".4" stroke-dasharray="1 .6"/>
<circle cx="369" cy="775" r=".8"/><circle cx="385.2" cy="769.8" r=".8"/><circle cx="385.2" cy="789.1" r=".8"/><circle cx="369" cy="794.9" r=".8"/><circle cx="397" cy="785" r="1" fill="#f5ab27"/>
<path d="M334 750C333 757 340 760 345.5 759.5" fill="none" stroke="#222" stroke-width=".3" marker-end="url(#a)"/>
<path d="M385 750C386 756 380 757 374 756" fill="none" stroke="#222" stroke-width=".3" marker-end="url(#a)"/>
<path d="M390.2 818.8C390 805 387 795 380 789" fill="none" stroke="#222" stroke-width=".3" marker-end="url(#a)"/>
<text class="c" x="326.3" y="748.7" textLength="35.4" lengthAdjust="spacingAndGlyphs">True Cov. Σ</text>
<text class="c" x="380" y="748.7" textLength="12.5" lengthAdjust="spacingAndGlyphs">PBF</text>
<text class="S B" x="397.6" y="807.8" font-size="9.2" textLength="16.8" lengthAdjust="spacingAndGlyphs">Ours</text>
<text class="S B" x="397.6" y="817" font-size="9.2" textLength="21" lengthAdjust="spacingAndGlyphs">(asso.)</text>
<text class="c" x="359.2" y="828.2" textLength="41.2" lengthAdjust="spacingAndGlyphs">Exact Contour</text>

<!-- ==== COLUMN 2 ==== -->
<text class="h" x="508.3" y="222.6" textLength="268.3" lengthAdjust="spacingAndGlyphs">Gaussian Rendering, Done Right</text>
<text class="sub" x="507.5" y="244.8" textLength="198.5" lengthAdjust="spacingAndGlyphs">Fixing the Math Behind Gaussian Projection</text>
<text class="p" x="507.5" y="261.3" textLength="375.7" lengthAdjust="spacingAndGlyphs">Ray–Gaussian Integral (Forward &amp; Backward): Analytical forward rendering and numerical stable</text>
<text class="p" x="507.5" y="271.8" textLength="127.5" lengthAdjust="spacingAndGlyphs">backward gradient computation.</text>

<path d="M583 324L556 309L560 345L570 350Z" fill="url(#cone)" filter="url(#b1)"/>
<line x1="583.5" y1="324" x2="547" y2="361" stroke="#f99d25" stroke-width="1.5"/>
<ellipse cx="551.5" cy="371" rx="28" ry="12" fill="#4f7f69" filter="url(#b15)" transform="rotate(38 551.5 371)"/>
<path d="M576.5 322L586 318.5L588.5 329L581 334Z" fill="#111"/><path d="M574 324L576.5 323L578 332L575.5 333.5Z" fill="#3a2c10"/>
<line x1="540.5" y1="368" x2="519" y2="390" stroke="#f99d25" stroke-width="1.5"/>
<path d="M515 396.5L518 385L524 391Z" fill="#f99d25"/>
<circle cx="552.5" cy="371.5" r="1" fill="#e8efe9"/>
<path d="M522.5 340.5V330.7" stroke="#f0505a" stroke-width="1.4"/><path d="M522.8 340.6H532.9" stroke="#1e90ff" stroke-width="1.4"/><path d="M522.8 340.6L516 348" stroke="#1fd16a" stroke-width="1.4"/>
<text class="c" x="523" y="328">z</text><text class="c" x="537.5" y="344">y</text><text class="c" x="514.5" y="354">x</text>
<text class="S I" x="574.8" y="369.4" font-size="10">G</text><text class="S I" x="581.5" y="371.5" font-size="5">Σ,μ</text><text class="S" x="589" y="369.4" font-size="9.5">(<tspan font-weight="bold">x</tspan>)</text>
<text class="S B" x="609.5" y="342.6" font-size="8.5" textLength="14.5" lengthAdjust="spacingAndGlyphs">|Δx|</text>
<path d="M590.6 387C600 387 602 375 605 363C607 354 609 352.3 610.5 352.3C613 352.3 614.5 356 616 368C618 380 622 387 630 387Z" fill="url(#bell)" stroke="#4f7f69" stroke-width=".4"/>
<rect x="614.4" y="372.6" width="4.4" height="14" fill="#4f7f69"/>
<path d="M591 372.6H630M614.4 347V386M618.8 347V386" stroke="#333" stroke-width=".2" stroke-dasharray="1 .7"/>
<rect x="590.6" y="386.6" width="39.4" height="1.7" fill="#f99d25"/>
<text class="S B" x="548.5" y="409.3" font-size="7.6" textLength="45.7" lengthAdjust="spacingAndGlyphs">World Frame</text>

<rect x="662.8" y="294.1" width="232.5" height="17.2" rx="2.5" fill="#fff" stroke="#aaa" stroke-width=".4"/>
<path d="M668.6 303.2H679.5" class="gr" marker-end="url(#ag)"/><path d="M744.3 303.2H733.4" class="or" marker-end="url(#ao)"/>
<rect x="803" y="299.6" width="9.7" height="7" rx=".6" class="nd"/><rect x="855.9" y="299.6" width="9.5" height="7" rx=".6" class="ng"/>
<text class="n" x="681.4" y="305" textLength="36.6" lengthAdjust="spacingAndGlyphs">Grad. forward</text>
<text class="n" x="746.5" y="305" textLength="41.3" lengthAdjust="spacingAndGlyphs">Grad. backward</text>
<text class="n" x="814.9" y="305" textLength="25.7" lengthAdjust="spacingAndGlyphs">Learnable</text>
<text class="n" x="867.6" y="305" textLength="22.7" lengthAdjust="spacingAndGlyphs">Sampled</text>

<rect x="662.8" y="316" width="37.8" height="104.7" rx="1.5" class="dg"/>
<rect x="753.3" y="316" width="62.9" height="82.8" rx="1.5" class="dg"/>
<rect x="825.2" y="332.7" width="70.1" height="88" rx="1.5" class="dg"/>

<!-- connectors -->
<path class="gr" d="M686.9 337.1H694.5V369.8H686.9M694.5 354.1H708.8" marker-end="url(#ag)"/>
<path class="or" d="M700.6 355.7H693.4V338.2H687.4" marker-end="url(#ao)"/><path class="or" d="M693.4 355.7V371.6H687.4" marker-end="url(#ao)"/>
<path class="gr" d="M733.1 328.8H746.5V350.7H737.5"/><path class="gr" d="M746.5 342.4H757.4" marker-end="url(#ag)"/>
<path class="or" d="M757.4 344.1H748.4V352.6H737.5" marker-end="url(#ao)"/>
<path class="gr" d="M737.5 356.6H745.7V405.8H687.4"/><path class="or" d="M687.4 407.3H744.9V358.5H737.5" marker-end="url(#ao)"/><path class="or" d="M700 407.3H687.4" marker-end="url(#ao)"/>
<path class="gr" d="M734.2 384.3H757.4" marker-end="url(#ag)"/><path class="or" d="M744.9 386.3H757.4"/>
<path class="gr" d="M775.8 337.9H822V368.3H812.1"/><path class="gr" d="M822 354.3H831.8" marker-end="url(#ag)"/>
<path class="or" d="M831.8 356.5H820.3V339.4H775.8" marker-end="url(#ao)"/><path class="or" d="M820.3 356.5V370.7H812.4" marker-end="url(#ao)"/>
<path class="gr" d="M775.8 343.7H784.2V384.3H775.8"/><path class="gr" d="M784.2 368.7H793.8" marker-end="url(#ag)"/>
<path class="or" d="M782.9 370.2V345.2H776" marker-end="url(#ao)"/><path class="or" d="M782.9 370.2V386.2H776" marker-end="url(#ao)"/><path class="or" d="M782.9 370.2H793.8"/>
<path class="gr" d="M857.2 356.2H866V404.9H857.5"/><path class="gr" d="M866 383.5H872" marker-end="url(#ag)"/>
<path class="or" d="M872 385.4H864.1V358.2H857.5" marker-end="url(#ao)"/><path class="or" d="M864.1 385.4V406.6H857.7" marker-end="url(#ao)"/>
<path class="gr" d="M882.4 374.4V342.1" marker-end="url(#ag)"/><path class="or" d="M880.8 339.3V367.9" marker-end="url(#ao)"/>

<!-- nodes -->
<g>
<rect x="668.6" y="329.1" width="18.3" height="18" rx="1" class="nd"/><rect x="668.6" y="362.4" width="18.3" height="18.3" rx="1" class="nd"/><rect x="669.1" y="396.5" width="18.3" height="17.9" rx="1" class="nd"/>
<rect x="715" y="321.3" width="18.1" height="18" rx="1" class="ng"/><rect x="716.1" y="376" width="18.1" height="18.1" rx="1" class="ng"/>
<rect x="757.4" y="332.4" width="18.4" height="18.3" rx="1" class="nd"/><rect x="757.4" y="375.7" width="18.4" height="18.3" rx="1" class="nd"/><rect x="793.8" y="360.5" width="18.3" height="18.3" rx="1" class="nd"/>
<rect x="831.8" y="348" width="25.4" height="16.8" rx="1" class="nd"/>
<rect x="873.1" y="324.3" width="18.3" height="18" rx="1" class="nd"/><rect x="870.9" y="321.3" width="18.3" height="18" rx="1" class="ng"/>
<rect x="872" y="374.4" width="18.3" height="18.2" rx="1" class="nd"/><rect x="839.2" y="396.5" width="18.3" height="17.9" rx="1" class="nd"/>
</g>
<text class="S B" x="675.2" y="342" font-size="13">s</text><text class="S B" x="674.4" y="375.5" font-size="13">q</text><text class="S I" x="675" y="409" font-size="13">μ</text>
<text class="S B" x="721" y="334.5" font-size="13">d</text><text class="S B" x="722" y="389" font-size="13">o</text>
<text class="S B" x="762" y="345" font-size="13">d</text><text class="S I" x="768.5" y="347" font-size="7">u</text>
<text class="S B" x="762" y="388" font-size="13">o</text><text class="S I" x="768.5" y="389" font-size="7">u</text>
<text class="S B" x="797" y="372" font-size="13">m</text><text class="S I" x="806" y="374" font-size="7">u</text>
<text class="S" x="835.5" y="359" font-size="12.5">D</text><text class="S I" x="844" y="361.5" font-size="6.5">μ,Σ</text>
<text class="S B" x="877" y="334" font-size="13">c</text><text class="S I" x="877.5" y="388" font-size="13">T</text><text class="S I" x="844" y="409.5" font-size="13">σ</text>
<text class="S I" x="710.4" y="359.3" font-size="13">S</text><text class="S" x="717" y="354.5" font-size="7">−1</text><text class="S I" x="725" y="359.3" font-size="13">R</text><text class="S" x="732.5" y="353.5" font-size="7">⊤</text>
<text class="n" x="668.6" y="326.5" textLength="18.8" lengthAdjust="spacingAndGlyphs">Scaling</text>
<text class="n" x="667.2" y="360.8" textLength="22.1" lengthAdjust="spacingAndGlyphs">Rotation</text>
<text class="n" x="670.8" y="394.8" textLength="14.7" lengthAdjust="spacingAndGlyphs">Mean</text>
<text class="n" x="662.5" y="429.4" textLength="38.5" lengthAdjust="spacingAndGlyphs">Gaus. Params</text>
<text class="n" x="717" y="319.4" textLength="15.8" lengthAdjust="spacingAndGlyphs">Direc.</text>
<text class="n" x="716.7" y="373.8" textLength="16.7" lengthAdjust="spacingAndGlyphs">Origin</text>
<text class="n" x="758.5" y="330.4" textLength="15.8" lengthAdjust="spacingAndGlyphs">Direc.</text>
<text class="n" x="758" y="373.8" textLength="16.7" lengthAdjust="spacingAndGlyphs">Origin</text>
<text class="n" x="794" y="358.8" textLength="18.6" lengthAdjust="spacingAndGlyphs">Mome.</text>
<text class="n" x="765.6" y="407" textLength="38.3" lengthAdjust="spacingAndGlyphs">Canonical Ray</text>
<text class="n" x="831.8" y="346.3" textLength="27.2" lengthAdjust="spacingAndGlyphs">Mah. Dist.</text>
<text class="n" x="872.8" y="319.4" textLength="15" lengthAdjust="spacingAndGlyphs">Color</text>
<text class="n" x="870.6" y="373.3" textLength="21.4" lengthAdjust="spacingAndGlyphs">Transm.</text>
<text class="n" x="841.4" y="394.8" textLength="15.6" lengthAdjust="spacingAndGlyphs">Opac.</text>
<text class="n" x="834" y="429.4" textLength="53.9" lengthAdjust="spacingAndGlyphs">Ray-Gaus. Integral</text>

<text class="sub" x="507.5" y="485.2" textLength="205.9" lengthAdjust="spacingAndGlyphs">Fixing the Math Behind Gaussian Association</text>
<text class="p" x="507.5" y="501.8" textLength="370.8" lengthAdjust="spacingAndGlyphs">Particle Bounding Frustum: Exact and minimal boundary geometry for ray–particle association.</text>

<!-- sphere figure -->
<path d="M575.3 534.4Q590 550 607 566.3Q594 572 580.8 578.9Q560 565 543.3 554.9Q558 545 575.3 534.4Z" fill="#f2f5ee" stroke="#b9cbbf" stroke-width=".35"/>
<ellipse cx="574.8" cy="559" rx="17" ry="7.5" fill="#3f7158" filter="url(#b15)" transform="rotate(42 574.8 559)"/>
<circle cx="576" cy="560.8" r="1.4"/>
<path d="M524.5 598C525 615 545 628 562 628C580 628 600 615 600 597L597 590L562 612L530 590Z" fill="url(#yel)"/>
<path d="M529.9 593.9C535 580 550 575.4 561.6 575.4C577 575.4 592 585 597.2 598.9L572 610.4C560 600 545 595 529.9 593.9Z" fill="#efe8da"/>
<path d="M548.8 587.7L561.6 576.6L588.4 588.3L570.7 601.2Z" fill="#c5f0d9"/>
<ellipse cx="569.3" cy="588.9" rx="8" ry="4.5" fill="#3f7158" filter="url(#b1)" transform="rotate(35 569.3 588.9)"/>
<path d="M535 588Q552 590 574 607M541 581Q561 585 586 604M549 577Q568 582 592 600M556 575.6Q574 582 596 595M545 594Q551 581 558 576M555 598Q561 586 570 577M563 602Q570 590 578 580M571 608Q578 596 587 585" fill="none" stroke="#777" stroke-width=".25"/>
<path d="M537.9 587.1L543.3 587.1L539.2 594.2L535.1 594.2Z" fill="#eeb468"/>
<path d="M567.9 578.6L582.2 592.8L570.7 598.6L553.4 587.2Z" fill="none" stroke="#38694f" stroke-width=".9"/>
<path d="M567.9 578.6L575.3 534.4M553.4 587.2L543.3 554.9M582.2 592.8L607 566.3M575.3 534.4L577 526M543.3 554.9L540 542M607 566.3L614 556" stroke="#38694f" stroke-width=".3"/>
<path d="M529.9 593.9C535 580 550 575.4 561.6 575.4C577 575.4 592 585 597.2 598.9M597.2 598.9L572 610.4C560 600 545 595 529.9 593.9" fill="none" stroke="#000" stroke-width=".7"/>
<circle cx="569" cy="589" r="1.3"/><path d="M562 579V570" stroke="#000" stroke-width=".4" marker-end="url(#a)"/>
<path d="M562.2 612.9L527 629" stroke="#000" stroke-width=".6" marker-end="url(#a)"/><path d="M562.2 612.9L598.8 627.3" stroke="#000" stroke-width=".6" marker-end="url(#a)"/>
<path d="M562.2 612.9L538 592M562.2 612.9L541 594M562.2 612.9L553 590M562.2 612.9L557 595" stroke="#5a4a2a" stroke-width=".25"/>
<path d="M540 556L550 566.5M524 580L530 587" stroke="#000" stroke-width=".25"/>
<circle cx="550" cy="566.5" r=".5"/><circle cx="529.5" cy="582.5" r=".5"/>
<text class="n I" x="546" y="547" transform="rotate(-32 546 547)" textLength="27.4" lengthAdjust="spacingAndGlyphs">far sphere</text>
<text class="n I" x="572" y="615.9" transform="rotate(-25.4 572 615.9)" textLength="41" lengthAdjust="spacingAndGlyphs">imaging sphere</text>
<text class="n" x="528.8" y="557.6" textLength="11.2" lengthAdjust="spacingAndGlyphs">PBF</text>
<text class="n" x="512.7" y="578" textLength="11.2" lengthAdjust="spacingAndGlyphs">CSF</text>
<text class="S I" x="578.9" y="567" font-size="8">G</text><text class="S I" x="584" y="569" font-size="4.5">Σ,μ</text><text class="S" x="590" y="567" font-size="8">(x)</text>

<!-- grid -->
<rect x="625.9" y="549.4" width="94.3" height="12.6" fill="#fff" stroke="#e4e4e4" stroke-width=".4"/>
<rect x="629.5" y="552" width="7.6" height="7.6" fill="none" stroke="#38694f" stroke-width=".9"/>
<rect x="653.8" y="552" width="7.1" height="7.6" fill="#ffbd7a"/><rect x="678.1" y="552" width="7.1" height="7.6" fill="#c5f5de"/>
<text class="n" x="639.6" y="557.3" textLength="11.2" lengthAdjust="spacingAndGlyphs">PBF</text>
<text class="n" x="663.9" y="557.3" textLength="11.2" lengthAdjust="spacingAndGlyphs">CSF</text>
<text class="n" x="688.3" y="557.3" textLength="30" lengthAdjust="spacingAndGlyphs">Intersection</text>
<rect x="642.9" y="573" width="69.4" height="52" fill="#ebebeb"/>
<rect x="677.9" y="590.7" width="25.7" height="25.5" fill="#c5f5de"/>
<rect x="651.6" y="616.4" width="8.8" height="8.6" fill="#ffbd7a"/>
<path d="M651.6 573V625M660.3 573V625M669 573V625M677.7 573V625M686.4 573V625M695 573V625M703.7 573V625M642.9 581.7H712.3M642.9 590.3H712.3M642.9 599H712.3M642.9 607.7H712.3M642.9 616.3H712.3" stroke="#777" stroke-width=".3"/>
<path d="M642.9 573H712.3M642.9 625H712.3" stroke="#222" stroke-width=".8"/>
<path d="M642.9 573V625M712.3 573V625" stroke="#555" stroke-width=".3"/>
<rect x="682.5" y="592.7" width="18.6" height="21.2" fill="none" stroke="#38694f" stroke-width=".9"/>
<path d="M696 597Q696 604 692 607Q689 609 689 612" fill="none" stroke="#3f7158" stroke-width="6" stroke-linecap="round" filter="url(#b1)"/>
<circle cx="692.9" cy="604.1" r="1.7"/>
<path d="M682.2 573V614M700.8 573V614M643 593H701M643 613.5H701" stroke="#555" stroke-width=".25" stroke-dasharray=".8 .6"/>
<path d="M677.7 599V607.5" stroke="#000" stroke-width=".4" marker-end="url(#a)"/><path d="M677.7 599H686" stroke="#000" stroke-width=".4" marker-end="url(#a)"/>
<text class="S I" x="679" y="570.7" font-size="8">ϕ<tspan font-size="5">1</tspan></text><text class="S I" x="697.5" y="570.7" font-size="8">ϕ<tspan font-size="5">2</tspan></text>
<text class="S I" x="635.5" y="593.6" font-size="8">θ<tspan font-size="5">1</tspan></text><text class="S I" x="635.5" y="614.3" font-size="8">θ<tspan font-size="5">2</tspan></text>
<text class="n" x="671.6" y="632.3" textLength="14.4" lengthAdjust="spacingAndGlyphs">FoVx</text>
<path d="M642.9 629.9H664.5M691 629.9H712.3M642.9 628V632M712.3 628V632M717.8 573.3V588M717.8 609V625M716.5 573.3H719M716.5 625H719" stroke="#777" stroke-width=".35"/>
<text class="n" x="721" y="606" transform="rotate(-90 721 606)" textLength="15" lengthAdjust="spacingAndGlyphs">FoVy</text>

<!-- right sphere -->
<ellipse cx="800.6" cy="586.9" rx="38.8" ry="39" fill="url(#sph)"/>
<ellipse cx="860" cy="576" rx="11.5" ry="26.5" fill="#a5beb0" transform="rotate(-5 860 576)"/>
<path d="M800.6 586.9V571.3A15.6 15.6 0 0 1 815.3 592.2Z" fill="#ff9a1a"/>
<path d="M800.6 586.9V574.3A12.6 12.6 0 0 0 790.8 594.9Z" fill="#9146ff"/>
<path d="M800.6 586.9V577A9.9 9.9 0 0 1 809 581.7Z" fill="#7fe9c0"/>
<path d="M800.6 625.8V607.7A18.1 18.1 0 0 1 815 614.8Z" fill="#ff9a1a"/>
<path d="M800.6 625.8L795.6 612A14.7 14.7 0 0 0 788.5 617.6Z" fill="#9146ff"/>
<path d="M800.6 625.8V612A13.8 13.8 0 0 1 806 613.1Z" fill="#7fe9c0"/>
<path d="M800.6 541.4V633.4" stroke="#000" stroke-width=".4"/><path d="M800.6 541.4L799.2 546H802Z"/>
<path d="M753.9 586.9H848.8" stroke="#000" stroke-width=".8"/><path d="M753.9 586.9L757 584.8V589Z"/>
<path d="M800.6 586.9L868.2 539.7M800.6 625.8L832.6 564.6" fill="none" stroke="#9146ff" stroke-width=".4"/>
<path d="M800.6 586.9L882.4 572.1M800.6 625.8L838.6 580.1" fill="none" stroke="#38694f" stroke-width=".4"/>
<path d="M800.6 586.9L878.3 605.9M800.6 625.8L838.6 595.7" fill="none" stroke="#ff9a1a" stroke-width=".45"/>
<path d="M800.6 586.9L755.8 574.8M762.6 577.5L800.6 625.8" fill="none" stroke="#ff9a1a" stroke-width=".4" stroke-dasharray="1 .7"/>
<path d="M790.8 594.9L763.4 614.1M768.9 609.4L800.6 625.8" fill="none" stroke="#9146ff" stroke-width=".4" stroke-dasharray="1 .7"/>
<g><circle cx="832.6" cy="564.6" r="1"/><circle cx="838.6" cy="580.1" r="1"/><circle cx="838.6" cy="595.7" r="1"/><circle cx="762.6" cy="577.5" r="1"/><circle cx="768.9" cy="609.4" r="1"/><circle cx="800.6" cy="586.9" r="1"/><circle cx="800.6" cy="625.8" r="1"/><circle cx="860" cy="576" r=".8"/></g>
<text class="n" x="799" y="540">z</text><text class="n" x="750" y="584.5">x</text>
<text class="S I" x="868" y="564" font-size="7">Σ<tspan font-size="4.5">c</tspan></text><text class="S I" x="860" y="581" font-size="7">μ<tspan font-size="4.5">c</tspan></text>
<text class="n" x="801.7" y="631.1" textLength="19.4" lengthAdjust="spacingAndGlyphs">(0, 0, −ξ)</text>

<text class="sub" x="507.5" y="693.7" textLength="305.2" lengthAdjust="spacingAndGlyphs">Optimizing the Ray Distribution Behind Pixelwise Color Supervision</text>
<text class="p" x="507.5" y="710.4" textLength="396.2" lengthAdjust="spacingAndGlyphs">Bipolar Equiangular Projection: Maintains uniform ray sampling across arbitrary fields of view, thereby</text>
<text class="p" x="507.5" y="720.6" textLength="268.8" lengthAdjust="spacingAndGlyphs">providing stable, FoV-invariant supervision for radiance field training.</text>

<text class="S" x="502" y="754.5" font-size="9.5" textLength="25.7" lengthAdjust="spacingAndGlyphs">sparser</text>
<rect x="510.8" y="760.9" width="7.1" height="55.4" fill="url(#bar)"/>
<text class="S" x="502.9" y="829.1" font-size="9.5" textLength="23.5" lengthAdjust="spacingAndGlyphs">denser</text>
<use href="#rows" stroke="url(#gP)"/>
<g><use href="#mer"/><use href="#mer" transform="translate(1438.4 0) scale(-1 1)"/><path d="M719.2 760.5V814" fill="none" stroke="url(#gD)" stroke-width="1" stroke-dasharray="1 2.6"/>
<g fill="none" stroke="#4f7f69" stroke-width=".8" stroke-dasharray=".9 1"><ellipse cx="719.2" cy="760.5" rx="1.5" ry="1.2"/><ellipse cx="719.2" cy="760.5" rx="3" ry="2.6"/><ellipse cx="719.2" cy="761" rx="5" ry="4.2"/><ellipse cx="719.2" cy="761.5" rx="8" ry="5.8"/><ellipse cx="719.2" cy="762.5" rx="11" ry="7"/><ellipse cx="719.2" cy="764" rx="15" ry="8.4"/><ellipse cx="719.2" cy="766" rx="19" ry="10.4"/><ellipse cx="719.2" cy="769" rx="24" ry="13"/></g></g>
<use href="#rows" stroke="url(#gE)" transform="translate(215.5 1)"/>
<text class="S B" x="595.8" y="829.1" font-size="7.6" textLength="38" lengthAdjust="spacingAndGlyphs">Perspective</text>
<text class="S B" x="703.3" y="829.1" font-size="7.6" textLength="39.1" lengthAdjust="spacingAndGlyphs">Equidistant</text>
<text class="S B" x="795.7" y="829.1" font-size="7.6" textLength="64.5" lengthAdjust="spacingAndGlyphs">Equiangular (ours)</text>

<!-- ==== COLUMN 3 ==== -->
<text class="h" x="968.9" y="222.9" textLength="238.5" lengthAdjust="spacingAndGlyphs">Accurate under Extreme FoV</text>
<text class="p" x="970.8" y="243.6" textLength="271" lengthAdjust="spacingAndGlyphs" style="font-size:8.6px">1. Splatting-based method breaks under extreme wide field-of-view.</text>
<text class="c" x="1003" y="276.2" textLength="55" lengthAdjust="spacingAndGlyphs">Training Time FoV</text>
<text class="c B" x="1100.2" y="276.9" textLength="35.6" lengthAdjust="spacingAndGlyphs">FisheyeGS</text>
<text class="c B" x="1177.5" y="276.9" textLength="56.3" lengthAdjust="spacingAndGlyphs">3DGEER (Ours)</text>
<text class="c" x="1282" y="276.2" textLength="55.2" lengthAdjust="spacingAndGlyphs">Training Time FoV</text>
<text class="c B" x="1379.3" y="276.9" textLength="36" lengthAdjust="spacingAndGlyphs">FisheyeGS</text>
<text class="c B" x="1457" y="276.9" textLength="55.9" lengthAdjust="spacingAndGlyphs">3DGEER (Ours)</text>

<use href="#bed" x="990" y="280.4" width="81.1" height="53.9"/>
<use href="#bed" x="1077.6" y="281.7" width="80.8" height="53.7"/><rect x="1077.6" y="281.7" width="16" height="36" fill="#fff"/><path d="M1077.6 281.7H1084L1077.6 292Z" fill="#000"/>
<use href="#bed" x="1165.3" y="281.7" width="80.7" height="53.7"/><use href="#mk" x="1165.3" y="281.7" width="80.7" height="53.7"/>
<use href="#kit" x="1269.4" y="280.4" width="80.8" height="53.9"/>
<use href="#kit" x="1357" y="281.7" width="80.8" height="53.7"/><path d="M1357 281.7H1364V335.4H1357ZM1430 281.7H1437.8V335.4H1430Z" fill="#3a2415" opacity=".8"/>
<use href="#kit" x="1444.4" y="281.7" width="80.7" height="53.7"/><use href="#mk" x="1444.4" y="281.7" width="80.7" height="53.7"/>
<use href="#lab" x="990" y="347.6" width="81.1" height="53.9"/>
<use href="#lab" x="1077.6" y="349" width="80.8" height="53.8"/><use href="#mh" x="1077.6" y="349" width="80.8" height="53.8"/>
<use href="#lab" x="1165.3" y="349" width="80.7" height="53.8"/><use href="#mk" x="1165.3" y="349" width="80.7" height="53.8"/>
<use href="#off" x="1269.4" y="347.6" width="80.8" height="53.9"/>
<use href="#off" x="1357" y="349" width="80.8" height="53.8"/><use href="#mg" x="1357" y="349" width="80.8" height="53.8"/>
<use href="#off" x="1444.4" y="349" width="80.7" height="53.8"/><use href="#mk" x="1444.4" y="349" width="80.7" height="53.8"/>
<text class="c" x="1009" y="343.2" textLength="43" lengthAdjust="spacingAndGlyphs">(Original FoV)</text>
<text class="c" x="1093.7" y="344.4" textLength="48.6" lengthAdjust="spacingAndGlyphs">Gaus.Num: 985k</text>
<text class="c" x="1181.3" y="344.4" textLength="48.4" lengthAdjust="spacingAndGlyphs">Gaus.Num: 664k</text>
<text class="c" x="1288.3" y="343.2" textLength="43" lengthAdjust="spacingAndGlyphs">(Original FoV)</text>
<text class="c" x="1373" y="344.4" textLength="48.6" lengthAdjust="spacingAndGlyphs">Gaus.Num: 760k</text>
<text class="c" x="1460.3" y="344.4" textLength="48.4" lengthAdjust="spacingAndGlyphs">Gaus.Num: 552k</text>
<text class="c" x="1009" y="410.7" textLength="43" lengthAdjust="spacingAndGlyphs">(Original FoV)</text>
<text class="c" x="1093.7" y="411.9" textLength="48.6" lengthAdjust="spacingAndGlyphs">Gaus.Num: 840k</text>
<text class="c" x="1181.3" y="411.9" textLength="48.4" lengthAdjust="spacingAndGlyphs">Gaus.Num: 582k</text>
<text class="c" x="1288.3" y="410.7" textLength="43" lengthAdjust="spacingAndGlyphs">(Original FoV)</text>
<text class="c" x="1371" y="411.9" textLength="52" lengthAdjust="spacingAndGlyphs">Gaus.Num: 1072k</text>
<text class="c" x="1460.3" y="411.9" textLength="48.4" lengthAdjust="spacingAndGlyphs">Gaus.Num: 732k</text>
<text class="S B" x="981" y="322.3" font-size="8" transform="rotate(-90 981 322.3)" textLength="29.9" lengthAdjust="spacingAndGlyphs">Bedroom</text>
<text class="S B" x="981" y="396.9" font-size="8" transform="rotate(-90 981 396.9)" textLength="38.7" lengthAdjust="spacingAndGlyphs">Laboratory</text>
<text class="S B" x="1264.5" y="320" font-size="8" transform="rotate(-90 1264.5 320)" textLength="25.8" lengthAdjust="spacingAndGlyphs">Kitchen</text>
<text class="S B" x="1264.5" y="394.8" font-size="8" transform="rotate(-90 1264.5 394.8)" textLength="35.9" lengthAdjust="spacingAndGlyphs">OfficeRom</text>

<text class="p" x="970.8" y="471.1" textLength="301.7" lengthAdjust="spacingAndGlyphs" style="font-size:8.6px">2. 3DGEER keeps high-fidelity rendering for generic cameras while still holds</text>
<text class="p" x="981.5" y="481.4" textLength="122.1" lengthAdjust="spacingAndGlyphs" style="font-size:8.6px">comparable speed to splatting.</text>
<text class="p" x="1373.5" y="471.1" textLength="140.5" lengthAdjust="spacingAndGlyphs" style="font-size:8.6px">3. Mismatched tilling issues is more</text>
<text class="p" x="1384.2" y="481.4" textLength="104.2" lengthAdjust="spacingAndGlyphs" style="font-size:8.6px">serious when extreme FoV</text>

<use href="#for" x="983" y="496.8" width="78.2" height="61.2"/><use href="#for" x="1064.6" y="496.8" width="78.1" height="61.2"/>
<use href="#for" x="983" y="561.3" width="78.2" height="61.4"/><use href="#for" x="1064.6" y="561.3" width="78.1" height="61.4"/>
<use href="#lb2" x="1145.4" y="496.8" width="92.6" height="61.2"/><use href="#lb2" x="1241.1" y="496.8" width="92.6" height="61.2"/>
<use href="#lb2" x="1145.4" y="561.3" width="92.6" height="61.4"/><use href="#lb2" x="1241.1" y="561.3" width="92.6" height="61.4"/>
<use href="#fb"/><use href="#fb" transform="translate(81.4 0)"/><use href="#fb" transform="translate(0 64.7)"/><use href="#fb" transform="translate(81.4 64.7)"/>
<use href="#lbb"/><use href="#lbb" transform="translate(95.7 0)"/><use href="#lbb" transform="translate(0 64.7)"/><use href="#lbb" transform="translate(95.7 64.7)"/>
<text class="w" x="984.6" y="554.7">GT</text>
<text class="w" x="1066.5" y="538.6" textLength="40.2" lengthAdjust="spacingAndGlyphs">PSNR: 27.21</text><text class="w" x="1066.5" y="547.4" textLength="28" lengthAdjust="spacingAndGlyphs">FPS: 343</text><text class="w" x="1066.5" y="556.4" textLength="20" lengthAdjust="spacingAndGlyphs">3DGS</text>
<text class="w" x="1146.8" y="554.7">GT</text>
<text class="w" x="1242.5" y="538.6" textLength="40.2" lengthAdjust="spacingAndGlyphs">PSNR: 27.81</text><text class="w" x="1242.5" y="547.4" textLength="28" lengthAdjust="spacingAndGlyphs">FPS: 213</text><text class="w" x="1242.5" y="556.4" textLength="87.6" lengthAdjust="spacingAndGlyphs">FisheyeGS (3DGS variant.)</text>
<text class="w" x="984.6" y="603.4" textLength="40.6" lengthAdjust="spacingAndGlyphs">PSNR: 27.20</text><text class="w" x="984.6" y="612.2" textLength="24.6" lengthAdjust="spacingAndGlyphs">FPS: 52</text><text class="w" x="984.6" y="621.2" textLength="56.6" lengthAdjust="spacingAndGlyphs">3DGRT (3DPRT)</text>
<text class="w" x="1066.5" y="603.4" textLength="40.2" lengthAdjust="spacingAndGlyphs">PSNR: 27.76</text><text class="w" x="1066.5" y="612.2" textLength="28" lengthAdjust="spacingAndGlyphs">FPS: 327</text><text class="w" x="1066.5" y="621.2" textLength="17" lengthAdjust="spacingAndGlyphs">Ours</text>
<text class="w" x="1146.8" y="603.4" textLength="40.2" lengthAdjust="spacingAndGlyphs">PSNR: 29.47</text><text class="w" x="1146.8" y="612.2" textLength="24.6" lengthAdjust="spacingAndGlyphs">FPS: 13</text><text class="w" x="1146.8" y="621.2" textLength="51.6" lengthAdjust="spacingAndGlyphs">EVER (3DPRT)</text>
<text class="w" x="1242.5" y="603.4" textLength="40.2" lengthAdjust="spacingAndGlyphs">PSNR: 31.50</text><text class="w" x="1242.5" y="612.2" textLength="28" lengthAdjust="spacingAndGlyphs">FPS: 251</text><text class="w" x="1242.5" y="621.2" textLength="17" lengthAdjust="spacingAndGlyphs">Ours</text>

<use href="#fe1" x="1384.6" y="496.8" width="62.8" height="60.3"/><use href="#fe1" x="1384.6" y="558.9" width="62.8" height="60.4"/>
<use href="#fe2" x="1458.5" y="496.8" width="65.8" height="60.3"/><rect x="1458.5" y="496.8" width="65.8" height="12" fill="url(#fadeg)"/>
<use href="#fe2" x="1458.5" y="558.9" width="65.8" height="60.4"/><rect x="1458.5" y="558.9" width="65.8" height="13" fill="url(#fadeb)"/>
<text class="S B" x="1376.5" y="538.3" font-size="8.5" transform="rotate(-90 1376.5 538.3)" textLength="28.2" lengthAdjust="spacingAndGlyphs">3DGUT</text>
<text class="S B" x="1376.5" y="619.5" font-size="8.5" transform="rotate(-90 1376.5 619.5)" textLength="59.7" lengthAdjust="spacingAndGlyphs">3DGEER (Ours)</text>

<text class="h" x="968.9" y="677.4" textLength="397" lengthAdjust="spacingAndGlyphs">Open-source Community Support with `gsplat`</text>

<g fill="#4a76b4"><rect x="1038.2" y="720.6" width="73.1" height="24.2" rx="1.2"/><rect x="1130.8" y="720.6" width="73.5" height="24.2" rx="1.2"/><rect x="970.8" y="793.2" width="73.5" height="24" rx="1.2"/><rect x="1084.9" y="792.8" width="73.5" height="24.1" rx="1.2"/></g>
<text class="B" x="1053.9" y="735.3" font-size="6.8" textLength="41.6" lengthAdjust="spacingAndGlyphs" style="fill:#fff">DriveStudio</text>
<text class="B" x="1140.3" y="735.3" font-size="6.8" textLength="54" lengthAdjust="spacingAndGlyphs" style="fill:#fff">StormGaussian</text>
<text class="B" x="993" y="808" font-size="6.8" textLength="29" lengthAdjust="spacingAndGlyphs" style="fill:#fff">3DGEER</text>
<text class="B" x="1110.5" y="808" font-size="6.8" textLength="22" lengthAdjust="spacingAndGlyphs" style="fill:#fff">gsplat</text>
<path d="M1052.5 751.5Q1058 749.5 1063.8 751.5V760Q1058 766 1052.5 760Z" fill="#d8d8d8" stroke="#555" stroke-width=".4"/><path d="M1055 754H1061M1055 757H1061" stroke="#444" stroke-width=".4"/>
<text class="S" x="1066.5" y="764" font-size="18" textLength="31.4" lengthAdjust="spacingAndGlyphs" style="fill:#990000">USC</text>
<path d="M1132.4 751Q1136.4 749.5 1140.4 751V756Q1136.4 761 1132.4 756Z" fill="#d8d8d8" stroke="#555" stroke-width=".3"/>
<text class="S" x="1142" y="758.9" font-size="12" textLength="20.2" lengthAdjust="spacingAndGlyphs" style="fill:#990000">USC</text>
<path d="M1168.3 750H1175.6V756Q1172 761 1168.3 756Z" fill="#8c1515"/><rect x="1171" y="751.5" width="1.8" height="6" fill="#2e6b3e"/>
<text class="S" x="1176.8" y="754.5" font-size="7.5" textLength="24.8" lengthAdjust="spacingAndGlyphs" style="fill:#8c1515">Stanford</text>
<text class="S" x="1179.5" y="759.4" font-size="4" textLength="19.5" lengthAdjust="spacingAndGlyphs" style="fill:#8c1515">University</text>

<path d="M1092.2 792.6V770" stroke="#111" stroke-width=".6" stroke-dasharray="2 1.4"/><path d="M1092.2 768.7L1090.3 774.5H1094.1Z"/>
<path d="M1158.4 804.8H1176V770" fill="none" stroke="#111" stroke-width=".6" stroke-dasharray="1.6 1.2"/><path d="M1176 768.7L1174.1 774.5H1177.9Z"/>
<path d="M1044.3 804.8H1082" stroke="#111" stroke-width=".7" stroke-dasharray="1.1 1"/><path d="M1084.9 804.8L1081 801.9V807.7Z"/>
<circle cx="1092.2" cy="784.1" r="4.4" fill="#0fb40f"/><path d="M1090 784.4L1091.6 786L1094.5 782" fill="none" stroke="#fff" stroke-width=".7"/>
<circle cx="1176" cy="784.1" r="4.4" fill="#888"/><path d="M1173.8 784.4L1175.4 786L1178.3 782" fill="none" stroke="#fff" stroke-width=".7"/>
<circle cx="1063.8" cy="804.8" r="4.4" fill="#0fb40f"/><path d="M1061.6 805L1063.2 806.6L1066.1 802.6" fill="none" stroke="#fff" stroke-width=".7"/>

<g fill="none" stroke="#666"><circle cx="986.1" cy="828.5" r="5.2" stroke-width=".5"/><circle cx="986.1" cy="828.5" r="3.9" stroke-width=".4"/><path d="M984 824.8V832.2M988.2 824.8V832.2M984 828.5H988.2" stroke-width=".6"/></g>
<text class="B" x="996.8" y="831.9" font-size="11" textLength="33.3" lengthAdjust="spacingAndGlyphs" style="fill:#ed0007">BOSCH</text>
<text class="S" x="1101.7" y="831.1" font-size="14" textLength="40.6" lengthAdjust="spacingAndGlyphs" style="fill:#003262">Berkeley</text>
<text x="1103.3" y="834.3" font-size="2.6" textLength="32" lengthAdjust="spacingAndGlyphs" style="fill:#003262">UNIVERSITY OF CALIFORNIA</text>

<ellipse cx="1321" cy="756.6" rx="19.6" ry="25.1" fill="#8e9196"/>
<g clip-path="url(#csm)"><rect x="1300" y="748" width="42" height="4" fill="#d5dbe2"/><rect x="1300" y="752" width="42" height="9" fill="#70757a"/><rect x="1300" y="760" width="42" height="6" fill="#83868a"/><path d="M1316 768L1320 758H1324L1334 768Z" fill="#a6a8ab"/><rect x="1332" y="749" width="9" height="9" fill="#8a7a7a"/></g>

<g clip-path="url(#cbar)">
<rect x="1340" y="710" width="170" height="50" fill="url(#sky)"/>
<path d="M1365 738Q1385 722 1500 718M1370 745Q1420 727 1500 724M1390 735L1500 730" fill="none" stroke="#55606e" stroke-width=".3"/>
<rect x="1385.5" y="712" width="1.3" height="80" fill="#5d5a58"/>
<path d="M1392 730Q1395 724 1402 725Q1406 733 1402 739L1392 740Z" fill="#38402f"/>
<path d="M1385 749L1470 733L1490 740V770H1385Z" fill="#c6a98b"/>
<path d="M1392 752H1470V770H1392Z" fill="#6a5a4e"/>
<path d="M1396 752h6v18h-6zM1410 752h6v18h-6zM1424 752h6v18h-6zM1438 752h6v18h-6zM1452 752h4v18h-4z" fill="#cdb08f"/>
<rect x="1470" y="735" width="30" height="32" fill="#8f8f73"/>
<rect x="1340" y="767" width="170" height="35" fill="#6f7076"/>
<path d="M1356 750H1380V780H1356Z" fill="#6d6c6a"/>
<path d="M1430 798L1438 780H1442L1436 801ZM1448 801L1460 778H1466L1458 801ZM1470 801L1480 780H1484L1478 801ZM1412 783L1430 790L1424 794L1408 786ZM1415 775L1436 779L1434 782L1413 778ZM1425 769L1446 772L1444 774L1423 772Z" fill="#dcdcdc"/>
<path d="M1420.6 766Q1428 760 1434 761L1457 764V769L1445 771L1422 768Z" fill="#c02824"/>
<path d="M1462.7 765Q1470 758 1478 757.4L1491.4 760V767L1465 768Z" fill="#f2f3f5"/>
<path d="M1384 765Q1390 764 1392 760Q1398 762 1398 770L1400 795L1392 798L1390 780L1384 775Z" fill="#4b3e46"/>
<path d="M1386 770Q1390 768 1392 776L1392 785L1386 780Z" fill="#d49a9c"/>
<path d="M1354 765H1388V778L1370 775Z" fill="#666869"/>
<path d="M1494 765L1500 763L1502 785L1492 793Z" fill="#2d4a63"/>
</g>
<text class="p" x="1218.9" y="828.5" textLength="289.8" lengthAdjust="spacingAndGlyphs" style="font-size:8.6px">3DGEER now supports dynamic outdoor scene rendering under wide-FoV</text>
<text class="p" x="1218.9" y="838.8" textLength="210.5" lengthAdjust="spacingAndGlyphs" style="font-size:8.6px">fisheye cameras with the integration into DriveStudio.</text>
</svg>
</body></html>
